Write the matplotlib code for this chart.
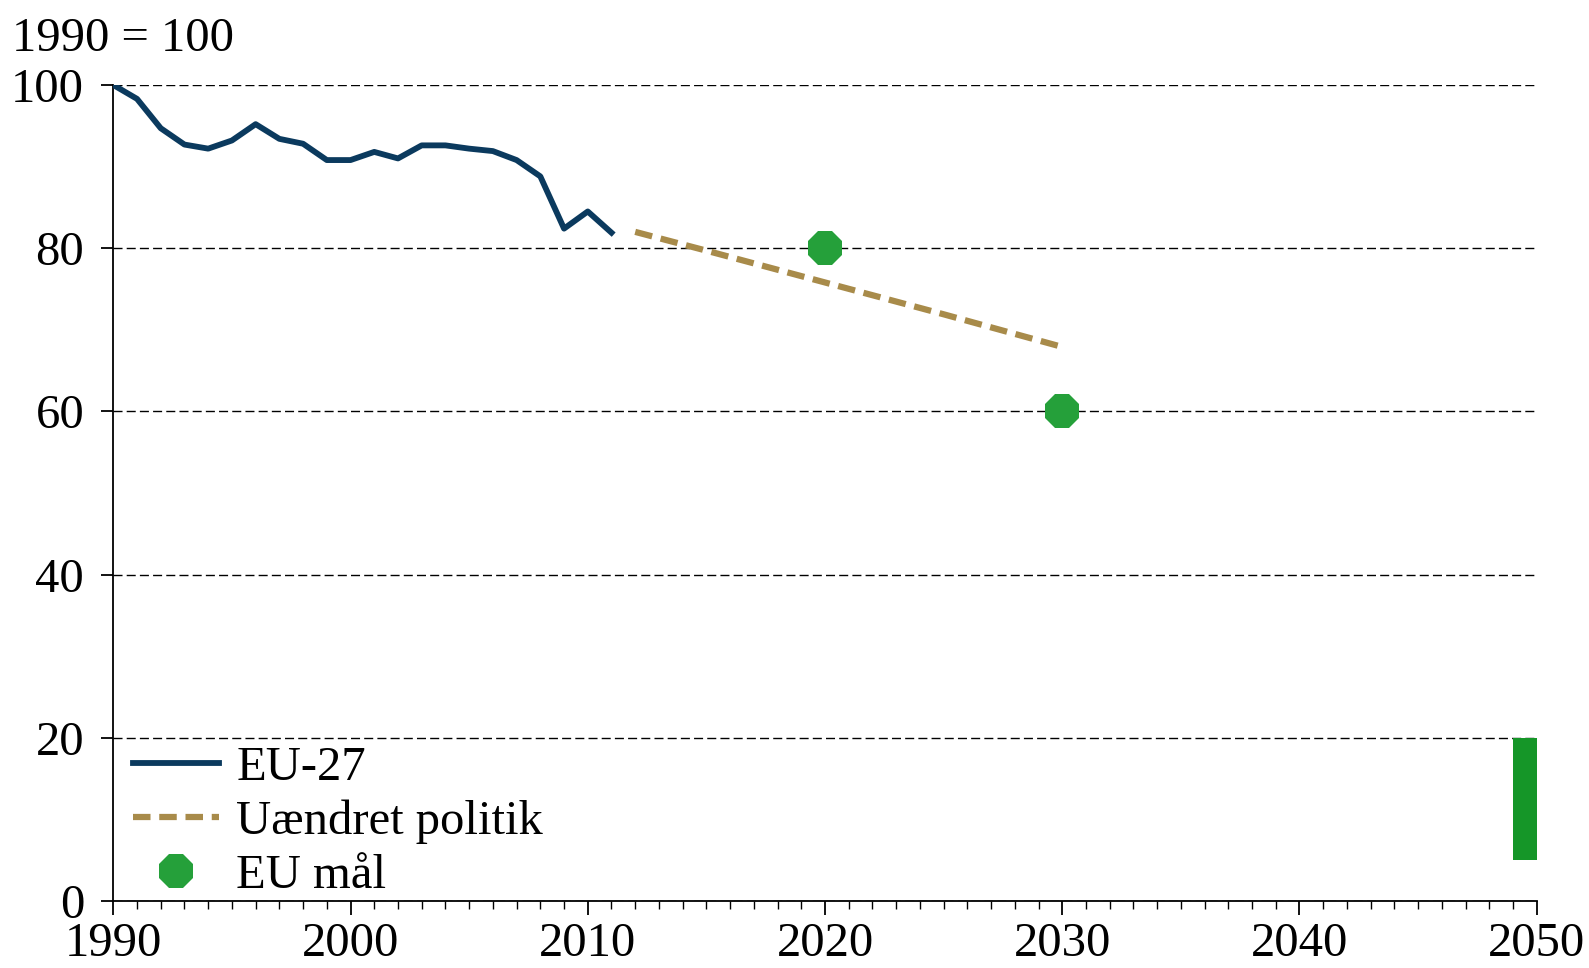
import matplotlib
matplotlib.use('Agg')
import matplotlib.pyplot as plt
import numpy as np

# EU-27 index, 1990 = 100
years = list(range(1990, 2012))
eu27 = [100.0, 98.3, 94.7, 92.7, 92.2, 93.2, 95.2, 93.4, 92.8, 90.8, 90.8,
        91.8, 91.0, 92.6, 92.6, 92.2, 91.9, 90.8, 88.8, 82.4, 84.5, 81.9]

# projection with unchanged policy
proj_years = [2012, 2015, 2020, 2025, 2030]
proj_vals = [82.0, 79.7, 75.8, 71.9, 67.9]

# EU targets
target_years = [2020, 2030]
target_vals = [80, 60]

# 2050 target range
range_year = 2049.5
range_low = 5
range_high = 20

plt.rcParams['font.family'] = ['Liberation Serif', 'DejaVu Serif']
plt.rcParams['font.size'] = 35

fig = plt.figure(figsize=(15.89, 9.68), dpi=100)
ax = fig.add_axes([0.0713, 0.0692, 0.8958, 0.843])

ax.plot(years, eu27, color='#0b3a5e', lw=4.2, label='EU-27', zorder=4)
ax.plot(proj_years, proj_vals, color='#a88b4a', lw=4.5, linestyle=(0, (2.8, 1.4)),
        label='Uændret politik', zorder=4)
ax.plot(target_years, target_vals, linestyle='none', marker='8', markersize=27,
        color='#25a03a', markeredgewidth=0, label='EU mål', zorder=5)
ax.bar(range_year, range_high - range_low, bottom=range_low, width=1,
       color='#159628', zorder=3)

ax.set_xlim(1990, 2050)
ax.set_ylim(0, 100)
ax.set_xticks(np.arange(1990, 2051, 10))
ax.set_xticks(np.arange(1990, 2051, 1), minor=True)
ax.set_yticks(np.arange(0, 101, 20))

ax.yaxis.grid(True, color='black', lw=1.0, linestyle=(0, (6.5, 3)))
ax.set_axisbelow(True)
for s in ['top', 'right']:
    ax.spines[s].set_visible(False)
for s in ['left', 'bottom']:
    ax.spines[s].set_linewidth(1.3)

ax.tick_params(axis='x', which='major', direction='out', length=10, width=1.3, pad=5)
ax.tick_params(axis='x', which='minor', direction='out', length=6, width=1.0)
ax.tick_params(axis='y', direction='out', length=9, width=1.3, pad=12)

fig.text(12 / 1589, 1 - 50.7 / 968, '1990 = 100', ha='left', va='baseline')

ax.legend(loc='lower left', bbox_to_anchor=(0.014, 0.004), frameon=False,
          handlelength=1.77, handletextpad=0.35, labelspacing=0.2,
          borderaxespad=0, borderpad=0, fontsize=35)

fig.savefig('out.png', dpi=100)
